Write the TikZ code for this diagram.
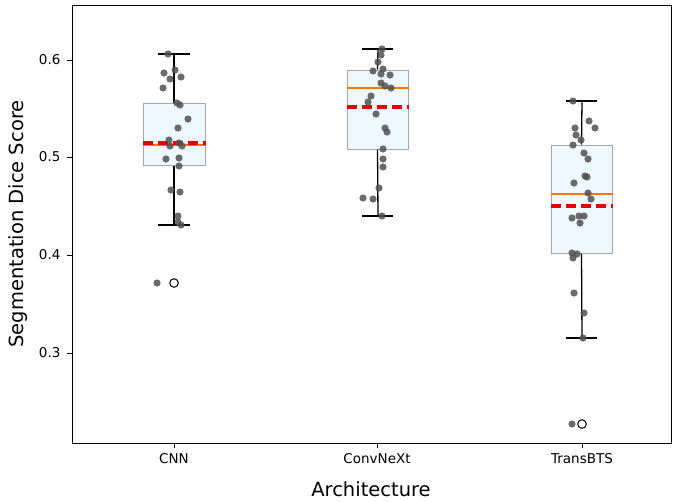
\documentclass[tikz,border=0pt]{standalone}
\usepackage{fontspec}
\setmainfont{DejaVu Sans}
\begin{document}
\begin{tikzpicture}[x=1pt,y=-1pt,
  dot/.style={fill=black!68,draw=none,opacity=0.85},
  boxs/.style={fill=cyan!7!white,draw=black!35,line width=1pt},
  whisk/.style={draw=black,line width=1.3pt},
  med/.style={draw=orange!90!red,line width=1.2pt},
  meanl/.style={draw=red!90!black,line width=3.2pt,dash pattern=on 10pt off 5pt},
  tick/.style={draw=black,line width=0.8pt},
  lab/.style={font=\fontsize{13.5}{16}\selectfont}]
\useasboundingbox (0,0) rectangle (685,501);
\path[fill=white] (0,0) rectangle (685,501);
% CNN
\node[boxs,minimum width=62pt,minimum height=62pt,inner sep=0] (b1) at (174,134) {};
\draw[whisk] (b1.north) -- (174,54) coordinate (t1);
\draw[whisk] (b1.south) -- (174,225) coordinate (u1);
\draw[whisk] (158,54) -- (190,54) (158,225) -- (190,225);
\draw[med] (b1.west |- 0,145) -- (b1.east |- 0,145);
\draw[meanl] (b1.west |- 0,143) -- (b1.east |- 0,143);
\draw[black,line width=1pt,fill=white] (174,283) circle (4.3);
\foreach \p in {(168,54),(175,70),(164,73),(181,77),(170,79),(163,88),(177,103),(180,105),(188,119),(178,128),(169,140),(179,143),(170,146),(182,146),(166,159),(179,158),(179,166),(171,190),(180,192),(178,216),(178,222),(181,225),(157,283)}
  \fill[dot] \p circle (3.6);
% ConvNeXt
\node[boxs,minimum width=61pt,minimum height=79pt,inner sep=0] (b2) at (377.5,109.5) {};
\draw[whisk] (b2.north) -- (378,49) coordinate (t2);
\draw[whisk] (b2.south) -- (378,216) coordinate (u2);
\draw[whisk] (362,49) -- (393,49) (362,216) -- (393,216);
\draw[med] (b2.west |- 0,88) -- (b2.east |- 0,88);
\draw[meanl] (b2.west |- 0,107) -- (b2.east |- 0,107);
\foreach \p in {(382,49),(381,55),(378,62),(383,69),(373,71),(381,74),(390,75),(381,83),(385,86),(391,88),(371,96),(368,102),(376,114),(385,128),(387,132),(383,149),(383,159),(383,167),(379,188),(363,198),(373,199),(382,216)}
  \fill[dot] \p circle (3.6);
% TransBTS
\node[boxs,minimum width=61pt,minimum height=108pt,inner sep=0] (b3) at (581.5,199) {};
\draw[whisk] (b3.north) -- (582,101) coordinate (t3);
\draw[whisk] (b3.south) -- (582,338) coordinate (u3);
\draw[whisk] (566,101) -- (597,101) (566,338) -- (597,338);
\draw[med] (b3.west |- 0,194) -- (b3.east |- 0,194);
\draw[meanl] (b3.west |- 0,206) -- (b3.east |- 0,206);
\draw[black,line width=1pt,fill=white] (582,424) circle (4.3);
\foreach \p in {(573,101),(589,121),(575,128),(595,128),(576,135),(581,140),(573,145),(584,153),(588,159),(585,176),(587,177),(574,183),(588,193),(591,199),(572,218),(579,216),(584,216),(580,223),(572,253),(577,254),(573,258),(574,293),(584,313),(583,338),(572,424)}
  \fill[dot] \p circle (3.6);
% axes
\node[draw=black,line width=0.8pt,minimum width=599pt,minimum height=438pt,inner sep=0] (ax) at (371.5,224) {};
\foreach \v/\y in {0.6/60,0.5/157,0.4/255,0.3/353}{
  \draw[tick] (72,\y) -- (67,\y);
  \node[lab,anchor=east] at (64,\y) {\v};}
\foreach \l/\x in {CNN/174,ConvNeXt/377,TransBTS/582}{
  \draw[tick] (\x,443) -- (\x,448);
  \node[lab,anchor=north] at (\x,450) {\l};}
\node[font=\fontsize{19.5}{22}\selectfont] (xl) at (371,489) {Architecture};
\node[font=\fontsize{19.5}{22}\selectfont,rotate=90] (yl) at (18,224) {Segmentation Dice Score};
\end{tikzpicture}
\end{document}
